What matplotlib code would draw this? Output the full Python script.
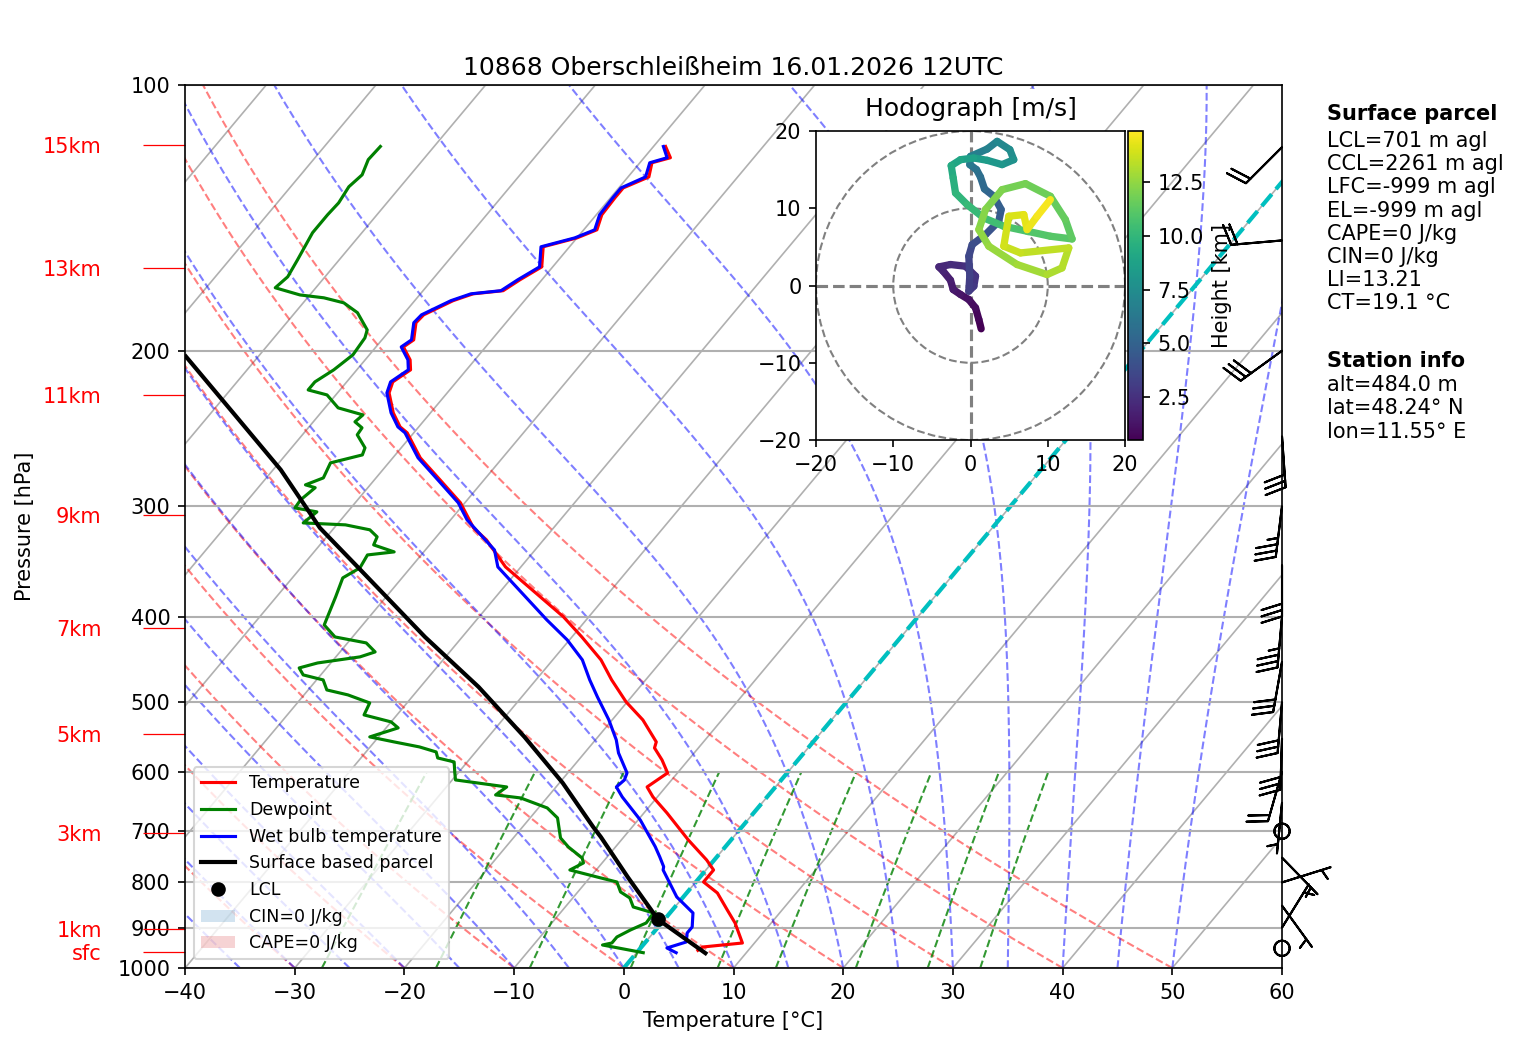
import numpy as np
import matplotlib
matplotlib.use('Agg')
import matplotlib.pyplot as plt
import matplotlib.transforms as mtransforms
from matplotlib.collections import LineCollection
from matplotlib.colors import Normalize
from matplotlib.lines import Line2D
from matplotlib.patches import Circle, Patch

title = '10868 Oberschleißheim 16.01.2026 12UTC'

# sounding: pressure [hPa], temperature [degC]
temp_p = [955, 946.7, 936.9, 889.2, 859.6, 822.3, 799.1, 774.5, 754.5, 716.1,
          667.5, 640.2, 623.7, 601.3, 581.3, 563.4, 554.6, 523.7, 499.7, 471.8,
          447.8, 421.8, 400.3, 351.4, 327.5, 317.4, 297.3, 280.1, 264.4, 247.7,
          243.9, 235.1, 223.2, 216.9, 210.2, 204.8, 198.0, 194.4, 185.9, 182.1,
          175.5, 172.4, 171.0, 166.2, 160.7, 152.5, 149.0, 145.9, 140.3, 134.2,
          130.8, 127.1, 122.5, 120.9, 117.4]
temp_t = [5.4, 5.6, 8.9, 6.7, 5.0, 2.8, 0.7, 0.7, -0.7, -3.9,
          -7.9, -10.4, -11.7, -10.9, -12.4, -14.0, -14.3, -17.2, -20.1, -23.1,
          -25.6, -29.1, -32.3, -41.4, -45.2, -47.3, -50.4, -54.0, -57.5, -60.6,
          -61.7, -63.4, -65.3, -65.8, -65.1, -65.9, -67.5, -67.1, -68.2, -68.1,
          -66.5, -65.2, -62.7, -62.0, -61.0, -62.4, -60.0, -58.8, -59.5, -59.6,
          -59.6, -58.1, -58.9, -57.6, -58.9]

dewp_p = [960.9, 941.8, 936.9, 922.3, 905.6, 889.2, 866.3, 852.9, 833.1, 820.2,
          799.1, 788.7, 774.5, 760.4, 750.6, 729.3, 712.4, 676.2, 658.8, 641.8,
          636.8, 623.7, 612.4, 601.3, 584.3, 578.3, 569.3, 561.9, 554.6, 547.4,
          534.7, 526.4, 516.9, 501.0, 490.6, 484.3, 471.8, 465.7, 457.3, 451.4,
          444.3, 438.6, 428.4, 421.8, 408.8, 380.0, 361.6, 352.3, 340.6, 337.9,
          331.8, 324.9, 319.0, 314.9, 313.3, 304.4, 301.3, 295.0, 285.8, 283.7,
          278.6, 267.9, 262.4, 257.6, 249.0, 244.5, 240.7, 236.4, 232.1, 224.4,
          221.5, 216.9, 210.2, 202.1, 193.4, 189.4, 181.1, 176.5, 174.2, 172.9,
          169.7, 164.9, 157.8, 147.0, 140.3, 136.0, 130.4, 126.4, 121.5, 117.4]
dewp_t = [0.6, -3.7, -3.0, -3.0, -2.3, -1.4, -1.5, -3.8, -4.8, -6.1,
          -7.2, -9.4, -12.4, -11.7, -12.2, -14.3, -15.7, -17.5, -19.2, -22.4,
          -24.9, -24.5, -29.7, -30.3, -31.2, -33.0, -33.6, -35.5, -38.2, -40.8,
          -38.9, -40.0, -43.0, -43.4, -46.0, -48.3, -49.4, -51.6, -52.5, -51.2,
          -47.8, -46.8, -48.3, -51.6, -53.5, -54.6, -55.4, -54.6, -54.9, -52.7,
          -55.1, -55.4, -56.6, -59.2, -63.2, -62.8, -65.1, -65.2, -64.8, -65.9,
          -64.8, -65.3, -63.0, -63.3, -65.0, -65.1, -66.2, -66.0, -68.8, -70.8,
          -72.9, -72.9, -72.1, -71.5, -71.7, -72.1, -74.3, -76.3, -78.5, -80.9,
          -83.7, -83.4, -83.8, -84.5, -84.5, -84.4, -84.7, -84.4, -85.0, -84.9]

wetb_p = [960.9, 949.2, 934.4, 912.7, 898.6, 866.3, 830.9, 774.5, 767.9, 748.6,
          728.8, 679.8, 640.2, 623.7, 612.4, 601.3, 570.8, 551.7, 523.7, 493.2,
          471.8, 447.8, 425.1, 403.4, 351.4, 336.2, 310.8, 297.3, 280.1, 264.4,
          247.7, 243.9, 235.1, 223.2, 216.9, 210.2, 204.8, 198.0, 194.4, 185.9,
          182.1, 175.5, 172.4, 171.0, 166.2, 160.7, 152.5, 149.0, 145.9, 140.3,
          134.2, 130.8, 127.1, 122.5, 120.9, 117.4]
wetb_t = [3.6, 2.4, 3.7, 3.1, 3.1, 2.1, -0.6, -3.9, -4.1, -5.2,
          -6.4, -9.8, -13.2, -14.5, -14.3, -14.6, -16.9, -18.1, -20.3, -23.1,
          -25.1, -27.3, -30.2, -33.6, -42.1, -43.7, -48.5, -50.6, -54.2, -57.7,
          -60.8, -61.9, -63.6, -65.5, -66.0, -65.3, -66.1, -67.7, -67.3, -68.4,
          -68.3, -66.7, -65.4, -62.9, -62.2, -61.2, -62.6, -60.2, -59.0, -59.7,
          -59.8, -59.8, -58.4, -59.1, -57.9, -59.1]

parcel_p = [962, 881, 877.7, 788.7, 710.6, 691.8, 617.2, 547.4, 480.5, 421.8,
            354.1, 317.4, 272.8, 235.1, 203.0]
parcel_t = [6.3, -0.6, -0.8, -6.6, -12.1, -13.6, -19.7, -26.7, -34.7, -43.4,
            -54.4, -61.3, -69.3, -78.0, -86.6]
lcl_p, lcl_t = 881, -0.6

# winds on the right edge, knots
barb_p = [117.6, 150, 200, 250, 300, 350, 400, 450, 500, 550, 600, 650, 700,
          750, 800, 850, 900, 950]
barb_u = [14.1, 19.9, 24.3, -2.1, 4.3, 0.0, 3.1, 5.2, 2.6, 1.0, 5.5, 0.5, 0.0,
          -3.5, -4.8, -2.9, -2.6, 0.0]
barb_v = [14.1, 1.7, 17.6, 29.9, 34.7, 30.0, 34.9, 29.5, 29.9, 30.0, 19.2, 5.0, 0.0,
          3.6, -1.5, 4.0, -4.2, 0.0]

# height labels on the left axis
km_p = [117.0, 161.2, 224.5, 306.8, 412.3, 543.6, 703.8, 903.3, 959.8]
km_labels = ['15km', '13km', '11km', '9km', '7km', '5km', '3km', '1km', 'sfc']
p_ticks = [100, 200, 300, 400, 500, 600, 700, 800, 900, 1000]

# hodograph: height [km], u, v [m/s]
hodo_h = [0.48, 0.7, 0.9, 1.1, 1.3, 1.5, 1.7, 1.9, 2.1, 2.3,
          2.5, 2.7, 2.9, 3.1, 3.3, 3.6, 3.9, 4.2, 4.5, 4.8,
          5.1, 5.4, 5.7, 6.0, 6.3, 6.6, 6.9, 7.2, 7.5, 7.8,
          8.1, 8.4, 8.7, 9.0, 9.3, 9.6, 9.9, 10.2, 10.5, 10.8,
          11.0, 11.1, 11.3, 11.5, 11.7, 11.9, 12.1, 12.3, 12.5, 12.7,
          12.9, 13.1, 13.3, 13.5, 13.7, 13.9, 14.1, 14.3, 14.5, 14.7, 14.9]
hodo_u = [1.38, 1.08, 0.65, -0.22, -1.29, -2.24, -2.59, -3.53, -4.09, -2.59,
          -0.65, 0.65, 0.43, -0.22, -0.09, -0.22, 0.22, 1.94, 3.66, 3.97,
          3.02, 1.81, 1.29, 0.78, -0.09, 0.00, 2.16, 3.45, 5.09, 5.60,
          4.09, 2.16, 0.43, -1.29, -2.50, -2.24, -1.94, -0.43, 1.72, 4.31,
          7.33, 10.34, 13.15, 12.28, 10.34, 7.11, 4.09, 1.94, 1.08, 2.37,
          6.03, 9.91, 11.85, 12.72, 6.47, 4.31, 4.96, 6.90, 7.33, 8.62, 10.34]
hodo_v = [-5.60, -4.40, -2.89, -1.81, -1.16, -0.52, 0.69, 1.85, 2.41, 2.72,
          2.50, 1.21, -0.09, -0.73, 1.21, 3.79, 5.30, 6.59, 8.32, 9.83,
          11.55, 12.50, 14.05, 15.00, 15.65, 16.72, 17.67, 18.66, 17.59, 16.29,
          15.65, 16.21, 16.51, 16.29, 15.52, 13.92, 11.98, 10.47, 8.75, 7.67,
          7.03, 6.38, 6.03, 8.53, 11.55, 13.19, 12.41, 9.83, 7.24, 5.09,
          2.72, 1.42, 2.28, 4.87, 4.22, 5.09, 8.97, 9.18, 7.24, 8.97, 11.12]

parcel_text = ('LCL=701 m agl\nCCL=2261 m agl\nLFC=-999 m agl\nEL=-999 m agl\n'
               'CAPE=0 J/kg\nCIN=0 J/kg\nLI=13.21\nCT=19.1 °C')
station_text = 'alt=484.0 m\nlat=48.24° N\nlon=11.55° E'

# background lines of the diagram
iso_t = np.arange(-150, 61, 10)
dry_t0 = np.arange(-40, 51, 10)
moist_t0 = np.arange(-40, 51, 5)
mix_w = [0.0004, 0.001, 0.002, 0.004, 0.007, 0.01, 0.016, 0.024, 0.032]

SKEW = 0.674  # isotherm shift per unit of axes height
Rd, Cp, Lv, EPS = 287.05, 1005.7, 2.501e6, 0.622


def sat_vap(tc):
    return 6.112 * np.exp(17.67 * tc / (tc + 243.5))


def moist_lapse(tk, p):
    es = sat_vap(tk - 273.15)
    rs = EPS * es / (p - es)
    return (Rd * tk + Lv * rs) / p / (Cp + Lv * Lv * rs * EPS / (Rd * tk * tk))


def moist_adiabat(t0, pres):
    out = [t0 + 273.15]
    for p0, p1 in zip(pres[:-1], pres[1:]):
        dp = p1 - p0
        tk = out[-1]
        k1 = moist_lapse(tk, p0)
        k2 = moist_lapse(tk + 0.5 * dp * k1, p0 + 0.5 * dp)
        k3 = moist_lapse(tk + 0.5 * dp * k2, p0 + 0.5 * dp)
        k4 = moist_lapse(tk + dp * k3, p1)
        out.append(tk + dp * (k1 + 2 * k2 + 2 * k3 + k4) / 6)
    return np.array(out) - 273.15


fig = plt.figure(figsize=(1517 / 150, 1054 / 150), dpi=150)
ax = fig.add_axes([0.1220, 0.0816, 0.7231, 0.8378])
ax.set_yscale('log')
ax.set_xlim(-40, 60)
ax.set_ylim(1000, 100)

# skewed data transform (skew done in axes coordinates)
skew = (ax.transScale + ax.transLimits
        + mtransforms.Affine2D().skew(np.arctan(SKEW), 0) + ax.transAxes)

p_all = np.linspace(1000, 100, 181)
for t in iso_t:
    ax.plot([t, t], [1000, 100], color='#b0b0b0', lw=0.8, transform=skew, zorder=1)
for t0 in dry_t0:
    tt = (t0 + 273.15) * (p_all / 1000.0) ** 0.2857 - 273.15
    ax.plot(tt, p_all, color='r', ls='--', lw=1, alpha=0.5, transform=skew, zorder=1)
for t0 in moist_t0:
    ax.plot(moist_adiabat(t0, p_all), p_all, color='b', ls='--', lw=1, alpha=0.5,
            transform=skew, zorder=1)
p_mix = np.linspace(1000, 600, 41)
for w in mix_w:
    e = w * p_mix / (EPS + w)
    le = np.log(e / 6.112)
    ax.plot(243.5 * le / (17.67 - le), p_mix, color='g', ls='--', lw=1, alpha=0.8,
            transform=skew, zorder=1)
ax.plot([0, 0], [1000, 100], color='c', ls='--', lw=2, transform=skew, zorder=1.5)

l_t, = ax.plot(temp_t, temp_p, color='red', lw=1.5, transform=skew, zorder=3,
               label='Temperature')
l_td, = ax.plot(dewp_t, dewp_p, color='green', lw=1.5, transform=skew, zorder=3,
                label='Dewpoint')
l_tw, = ax.plot(wetb_t, wetb_p, color='blue', lw=1.5, transform=skew, zorder=3,
                label='Wet bulb temperature')
l_pc, = ax.plot(parcel_t, parcel_p, color='black', lw=2, transform=skew, zorder=3,
                label='Surface based parcel')
l_lcl, = ax.plot([lcl_t], [lcl_p], 'ko', ms=6, transform=skew, zorder=3.5, label='LCL')

# wind barbs at the right edge
bt = mtransforms.blended_transform_factory(ax.transAxes, ax.transData)
ax.barbs(np.ones(len(barb_p)), barb_p, barb_u, barb_v, transform=bt,
         clip_on=False, length=7, lw=1, zorder=4)

ax.set_xlim(-40, 60)
ax.set_ylim(1000, 100)
ax.set_xticks(range(-40, 61, 10))
ax.set_yticks(p_ticks, labels=[str(p) for p in p_ticks])
ax.set_yticks(km_p, labels=km_labels, minor=True)
ax.tick_params(axis='y', which='minor', length=20, pad=20, color='red',
               labelcolor='red')
ax.yaxis.grid(True, which='major', color='#b0b0b0', lw=1.0)
ax.set_xlabel('Temperature [°C]')
ax.set_ylabel('Pressure [hPa]')
ax.set_title(title, pad=5)

handles = [l_t, l_td, l_tw, l_pc, l_lcl,
           Patch(facecolor='tab:blue', alpha=0.2, label='CIN=0 J/kg'),
           Patch(facecolor='tab:red', alpha=0.2, label='CAPE=0 J/kg')]
ax.legend(handles=handles, loc='lower left', fontsize='small')

# hodograph inset
hax = fig.add_axes([0.5379, 0.5825, 0.2037, 0.2932])
hax.set_xlim(-20, 20)
hax.set_ylim(-20, 20)
hax.set_aspect('equal')
for r in (10, 20):
    hax.add_patch(Circle((0, 0), r, fill=False, ls='--', color='grey', lw=1))
hax.axhline(0, color='grey', ls='--', lw=1.5)
hax.axvline(0, color='grey', ls='--', lw=1.5)
pts = np.column_stack([hodo_u, hodo_v])
segs = np.stack([pts[:-1], pts[1:]], axis=1)
lc = LineCollection(segs, cmap='viridis', norm=Normalize(min(hodo_h), max(hodo_h)),
                    lw=3.5, capstyle='round')
lc.set_array(np.asarray(hodo_h[:-1]))
hax.add_collection(lc)
hax.set_xticks([-20, -10, 0, 10, 20])
hax.set_yticks([-20, -10, 0, 10, 20])
hax.set_title('Hodograph [m/s]', pad=7, bbox=dict(facecolor='white', edgecolor='none'))
cax = fig.add_axes([0.7436, 0.5825, 0.0099, 0.2932])
cb = fig.colorbar(lc, cax=cax)
cb.set_label('Height [km]')

# text on the right
fig.text(0.8748, 0.8920, 'Surface parcel', fontweight='bold', va='center')
fig.text(0.8748, 0.8757, parcel_text, va='top')
fig.text(0.8748, 0.6575, 'Station info', fontweight='bold', va='center')
fig.text(0.8748, 0.6440, station_text, va='top')

fig.savefig('out.png', dpi=150)
